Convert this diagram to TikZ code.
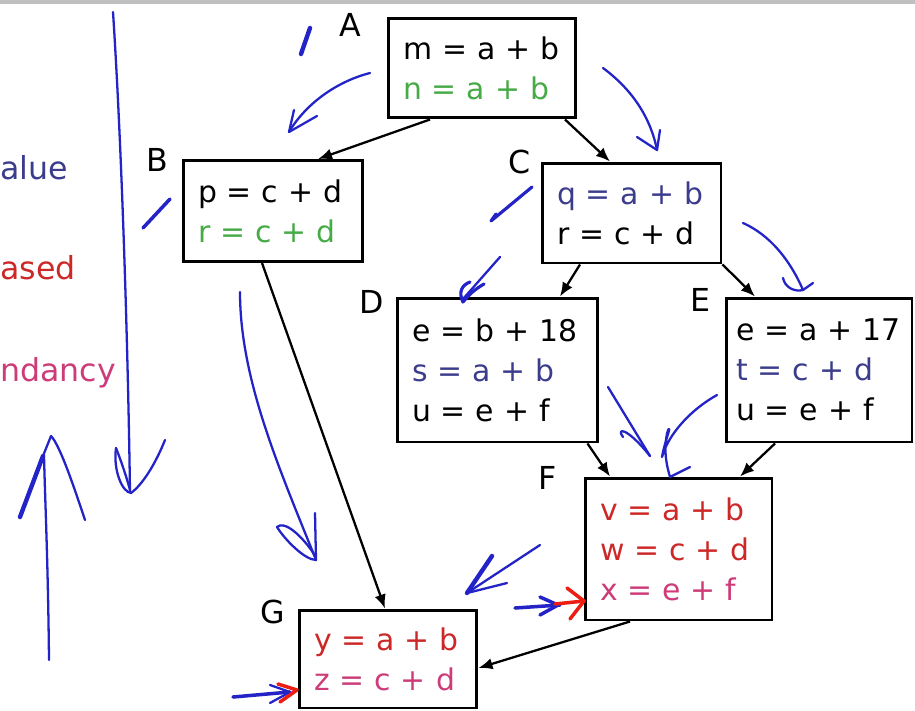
\documentclass[tikz,border=0pt]{standalone}
\usepackage{fontspec}
\setmainfont{DejaVu Sans}
\usepackage{tikz}
\usetikzlibrary{arrows.meta}

\definecolor{txtblue}{RGB}{60,60,140}
\definecolor{txtgreen}{RGB}{70,170,70}
\definecolor{txtred}{RGB}{205,40,40}
\definecolor{txtpink}{RGB}{205,60,120}
\definecolor{inkblue}{RGB}{35,35,200}
\definecolor{inkred}{RGB}{235,30,20}

\begin{document}
\begin{tikzpicture}[x=0.02cm,y=-0.02cm,
    blk/.style={draw, line width=1.7pt, align=left, inner xsep=0.3cm,
        font=\fontsize{17}{22.8}\selectfont},
    lbl/.style={font=\fontsize{18}{20}\selectfont},
    side/.style={anchor=west, inner sep=0pt, font=\fontsize{18}{22}\selectfont},
    flow/.style={line width=1.3pt, -{Latex[length=8pt,width=6.5pt]}},
    ink/.style={draw=inkblue, line width=1.3pt, line cap=round, line join=round},
    redink/.style={draw=inkred, line width=2pt, line cap=round, line join=round}]
            \useasboundingbox (0,0) rectangle (915,710);
            \fill[black!25] (0,0) rectangle (915,4);
            % blocks
            \node[blk, text width=3.16cm, minimum height=2cm] (A) at (482,68) {m = a + b\\ \textcolor{txtgreen}{n = a + b}};
            \node[blk, text width=3cm, minimum height=2.02cm] (B) at (273,211) {p = c + d\\ \textcolor{txtgreen}{r = c + d}};
            \node[blk, text width=2.98cm, minimum height=2cm] (C) at (631.5,213) {\textcolor{txtblue}{q = a + b}\\ r = c + d};
            \node[blk, text width=3.42cm, minimum height=2.88cm] (D) at (497.5,370) {e = b + 18\\ \textcolor{txtblue}{s = a + b}\\ u = e + f};
            \node[blk, inner xsep=0.2cm, text width=3.32cm, minimum height=2.88cm] (E) at (819,370) {e = a + 17\\ \textcolor{txtblue}{t = c + d}\\ u = e + f};
            \node[blk, text width=3.14cm, minimum height=2.84cm] (F) at (678.5,549) {\textcolor{txtred}{v = a + b}\\ \textcolor{txtred}{w = c + d}\\ \textcolor{txtpink}{x = e + f}};
            \node[blk, text width=2.96cm, minimum height=1.96cm] (G) at (388,659) {\textcolor{txtred}{y = a + b}\\ \textcolor{txtpink}{z = c + d}};
            % block names
            \node[lbl] (labA) at (350,25) {A};
            \node[lbl] (labB) at (157,160) {B};
            \node[lbl] (labC) at (520,162) {C};
            \node[lbl] (labD) at (372,302) {D};
            \node[lbl] (labE) at (700,300) {E};
            \node[lbl] (labF) at (548,478) {F};
            \node[lbl] (labG) at (273,612) {G};
            % cut-off words on the left
            \node[side, text=txtblue] (wval) at (0,168) {alue};
            \node[side, text=txtred] (wbas) at (0,268) {ased};
            \node[side, text=txtpink] (wred) at (0,373) {ndancy};
            % edges
            \draw[flow] ([xshift=-1.04cm]A.south) -- ([xshift=0.9cm]B.north);
            \draw[flow] ([xshift=1.66cm]A.south) -- ([xshift=-0.43cm]C.north);
            \draw[flow] ([xshift=-0.22cm]B.south) -- ([xshift=-0.06cm]G.north);
            \draw[flow] ([xshift=-1.03cm]C.south) -- ([xshift=1.25cm]D.north);
            \draw[flow] (C.south east) -- ([xshift=-1.28cm]E.north);
            \draw[flow] ([xshift=1.8cm]D.south) -- ([xshift=-1.37cm]F.north);
            \draw[flow] ([xshift=-0.88cm]E.south) -- ([xshift=1.23cm]F.north);
            \draw[flow] ([xshift=-0.97cm]F.south) -- ([yshift=-0.18cm]G.east);
            % pen strokes
            \draw[ink, line width=2.5pt] (310,28) -- (301,54);
            \draw[ink] (370,73) .. controls (335,82) and (305,105) .. (289,132);
            \draw[ink] (294,110) -- (289,132) -- (317,116);
            \draw[ink, line width=2pt] (170,199) -- (143,228);
            \draw[ink] (113,12) .. controls (122,150) and (128,350) .. (130,492);
            \draw[ink] (116,448) .. controls (113,470) and (122,492) .. (131,493) .. controls (142,485) and (155,465) .. (165,440);
            \draw[ink] (116,448) .. controls (120,458) and (126,475) .. (130,490);
            \draw[ink] (49,660) .. controls (48,560) and (45,500) .. (44,455);
            \draw[ink, line width=2.5pt] (20,517) -- (43,456);
            \draw[ink] (43,456) -- (51,436) .. controls (60,445) and (75,490) .. (85,520);
            \draw[ink] (240,292) .. controls (240,380) and (280,470) .. (316,560);
            \draw[ink] (277,527) .. controls (285,540) and (305,560) .. (316,560) -- (315,513);
            \draw[ink] (277,527) .. controls (284,520) and (302,535) .. (316,557);
            \draw[ink] (603,68) .. controls (630,88) and (650,115) .. (657,150);
            \draw[ink] (637,137) -- (657,150) -- (660,130);
            \draw[ink, line width=1.8pt] (532,187) -- (491,221) -- (496,214);
            \draw[ink] (743,223) .. controls (770,235) and (790,260) .. (803,290);
            \draw[ink] (783,278) .. controls (785,288) and (795,292) .. (803,290) -- (813,283);
            \draw[ink] (500,257) -- (463,299);
            \draw[ink, line width=1.8pt] (484,284) .. controls (470,292) and (465,300) .. (463,302) .. controls (458,292) and (462,285) .. (470,282);
            \draw[ink] (608,387) -- (650,456);
            \draw[ink] (623,437) .. controls (616,428) and (626,426) .. (650,456);
            \draw[ink] (717,395) .. controls (690,410) and (668,435) .. (662,457) .. controls (665,440) and (672,425) .. (668,430) .. controls (662,450) and (668,470) .. (670,477) -- (690,467);
            \draw[ink] (540,545) -- (467,593);
            \draw[ink, line width=2.5pt] (492,556) -- (467,593);
            \draw[ink] (467,593) -- (507,583);
            \draw[ink, line width=2pt] (515,608) -- (560,605);
            \draw[ink, line width=2pt] (540,597) -- (558,605) -- (540,615);
            \draw[redink] (555,604) -- (584,601);
            \draw[redink] (567,588) -- (584,601) -- (570,619);
            \draw[ink, line width=2pt] (233,697) -- (290,692);
            \draw[ink] (270,685) -- (290,692) -- (270,703);
            \draw[redink] (278,684) -- (297,690) -- (280,702);
        \end{tikzpicture}
\end{document}
